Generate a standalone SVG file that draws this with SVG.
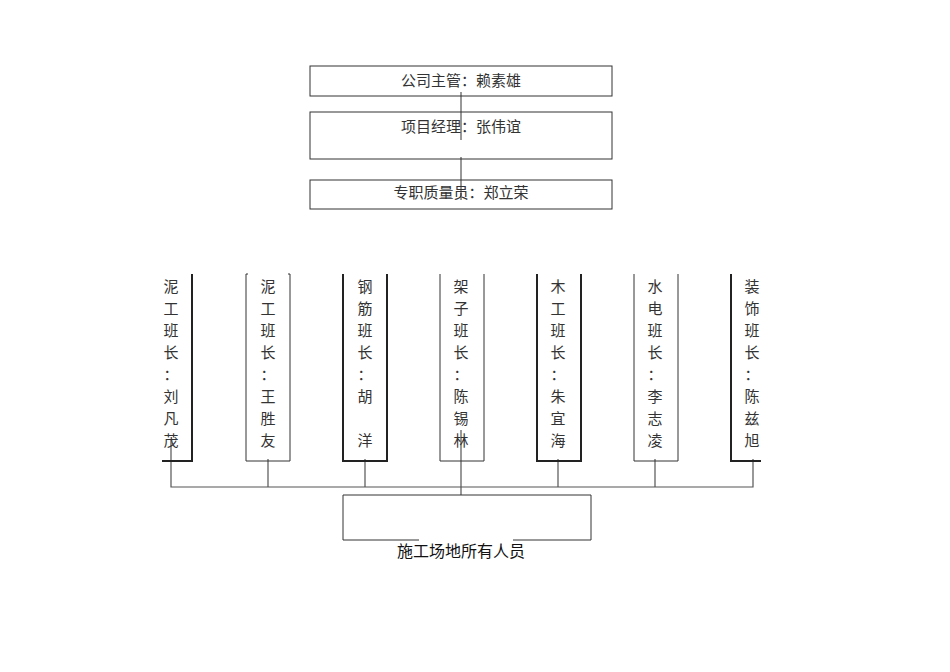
<svg xmlns="http://www.w3.org/2000/svg" width="950" height="672" viewBox="0 0 950 672">
<style>
.b{fill:none;stroke:#333;stroke-width:1}
.c{fill:none;stroke:#555;stroke-width:1.2}
.t{font-family:"Noto Sans CJK SC",sans-serif;font-size:15px;fill:#333;text-anchor:middle}
.v{font-family:"Noto Sans CJK SC",sans-serif;font-size:15px;fill:#333;text-anchor:middle}
.s{font-family:"Liberation Serif","Noto Sans CJK SC",serif;font-size:16px;fill:#111;text-anchor:middle}
</style>
<rect width="950" height="672" fill="#fff"/>
<g id="connectors">
<path class="b" d="M461 92V140M461 157V200"/>
<path class="c" d="M171 440V487H753V459M268 459V487M365 459V487M558 459V487M655 459V487M461 430V495"/>
</g>
<g id="n1"><rect class="b" x="310" y="66" width="302" height="30"/><text class="t" x="461" y="86">公司主管：赖素雄</text></g>
<g id="n2"><rect class="b" x="310" y="112" width="302" height="47"/><text class="t" x="461" y="132">项目经理：张伟谊</text></g>
<g id="n3"><rect class="b" x="310" y="180" width="302" height="29"/><text class="t" x="461" y="198">专职质量员：郑立荣</text></g>
<g id="w1"><path d="M192 274V461H162" fill="none" stroke="#222" stroke-width="2"/><text class="v"><tspan x="171" y="292">泥</tspan><tspan x="171" y="314">工</tspan><tspan x="171" y="336">班</tspan><tspan x="171" y="358">长</tspan><tspan x="171" y="380">：</tspan><tspan x="171" y="402">刘</tspan><tspan x="171" y="424">凡</tspan><tspan x="171" y="446">茂</tspan></text></g>
<g id="w2"><path class="b" d="M246 274V461H290V274M246 274h2M290 274h-2"/><text class="v"><tspan x="268" y="292">泥</tspan><tspan x="268" y="314">工</tspan><tspan x="268" y="336">班</tspan><tspan x="268" y="358">长</tspan><tspan x="268" y="380">：</tspan><tspan x="268" y="402">王</tspan><tspan x="268" y="424">胜</tspan><tspan x="268" y="446">友</tspan></text></g>
<g id="w3"><path d="M343 274V461H387V274" fill="none" stroke="#222" stroke-width="2"/><text class="v"><tspan x="365" y="292">钢</tspan><tspan x="365" y="314">筋</tspan><tspan x="365" y="336">班</tspan><tspan x="365" y="358">长</tspan><tspan x="365" y="380">：</tspan><tspan x="365" y="402">胡</tspan><tspan x="365" y="446">洋</tspan></text></g>
<g id="w4"><path class="b" d="M440 274V461H484V274"/><text class="v"><tspan x="461" y="292">架</tspan><tspan x="461" y="314">子</tspan><tspan x="461" y="336">班</tspan><tspan x="461" y="358">长</tspan><tspan x="461" y="380">：</tspan><tspan x="461" y="402">陈</tspan><tspan x="461" y="424">锡</tspan><tspan x="461" y="446">林</tspan></text></g>
<g id="w5"><path d="M537 274V461H581V274" fill="none" stroke="#222" stroke-width="2"/><text class="v"><tspan x="558" y="292">木</tspan><tspan x="558" y="314">工</tspan><tspan x="558" y="336">班</tspan><tspan x="558" y="358">长</tspan><tspan x="558" y="380">：</tspan><tspan x="558" y="402">朱</tspan><tspan x="558" y="424">宜</tspan><tspan x="558" y="446">海</tspan></text></g>
<g id="w6"><path class="b" d="M634 274V461H678V274"/><text class="v"><tspan x="655" y="292">水</tspan><tspan x="655" y="314">电</tspan><tspan x="655" y="336">班</tspan><tspan x="655" y="358">长</tspan><tspan x="655" y="380">：</tspan><tspan x="655" y="402">李</tspan><tspan x="655" y="424">志</tspan><tspan x="655" y="446">凌</tspan></text></g>
<g id="w7"><path d="M731 274V461H761" fill="none" stroke="#222" stroke-width="2"/><text class="v"><tspan x="752" y="292">装</tspan><tspan x="752" y="314">饰</tspan><tspan x="752" y="336">班</tspan><tspan x="752" y="358">长</tspan><tspan x="752" y="380">：</tspan><tspan x="752" y="402">陈</tspan><tspan x="752" y="424">兹</tspan><tspan x="752" y="446">旭</tspan></text></g>
<g id="all"><path class="b" d="M419 540H343V495H591V540H513"/><text class="s" x="461" y="557">施工场地所有人员</text></g>
</svg>
